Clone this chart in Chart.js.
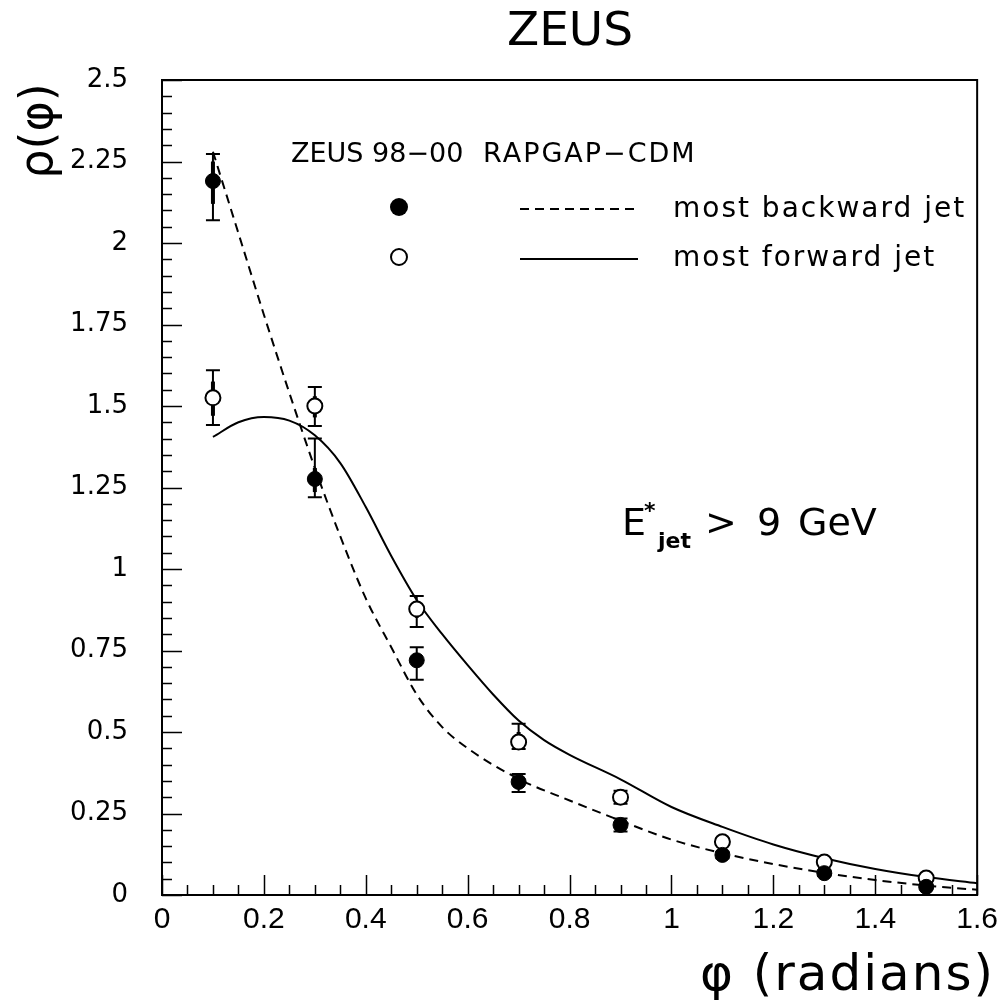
<!DOCTYPE html>
<html><head><meta charset="utf-8">
<script src="https://cdn.jsdelivr.net/npm/chart.js@4.4.1/dist/chart.umd.min.js"></script>
<style>html,body{margin:0;padding:0;background:#fff}#wrap{width:1005px;height:1001px;position:relative}</style>
</head><body><div id="wrap"><canvas id="c"></canvas></div>
<script>
// ---- data ----
const xPoints = [0.1, 0.3, 0.5, 0.7, 0.9, 1.1, 1.3, 1.5];
const backwardVals   = [2.19, 1.276, 0.72, 0.347, 0.215, 0.123, 0.067, 0.025];
const backwardTotHi  = [2.273, 1.40, 0.76, 0.371, 0.235, 0.133, 0.075, 0.030];
const backwardTotLo  = [2.07, 1.22, 0.66, 0.316, 0.195, 0.113, 0.059, 0.020];
const backwardStatHi = [2.25, 1.31, 0.74, 0.36, 0.225, 0.128, 0.071, 0.027];
const backwardStatLo = [2.12, 1.236, 0.70, 0.33, 0.205, 0.118, 0.063, 0.023];
const forwardVals    = [1.525, 1.50, 0.877, 0.469, 0.30, 0.163, 0.101, 0.052];
const forwardTotHi   = [1.61, 1.558, 0.917, 0.525, 0.32, 0.173, 0.109, 0.057];
const forwardTotLo   = [1.442, 1.439, 0.822, 0.448, 0.28, 0.153, 0.093, 0.047];
const forwardStatHi  = [1.575, 1.53, 0.90, 0.50, 0.31, 0.168, 0.105, 0.055];
const forwardStatLo  = [1.47, 1.465, 0.85, 0.455, 0.29, 0.158, 0.097, 0.049];

const curveXBack = [0.1,0.15,0.2,0.25,0.3,0.35,0.4,0.45,0.5,0.55,0.6,0.7,0.8,0.9,1.0,1.1,1.2,1.3,1.4,1.5,1.6];
const curveBack  = [2.28,2.03,1.78,1.54,1.31,1.10,0.91,0.76,0.615,0.515,0.45,0.356,0.29,0.228,0.17,0.128,0.095,0.068,0.046,0.029,0.016];
const curveXFwd  = [0.1,0.15,0.2,0.25,0.3,0.35,0.4,0.45,0.5,0.55,0.6,0.65,0.7,0.75,0.8,0.9,1.0,1.1,1.2,1.3,1.4,1.5,1.6];
const curveFwd   = [1.405,1.45,1.466,1.455,1.41,1.325,1.19,1.04,0.905,0.80,0.705,0.615,0.535,0.475,0.43,0.355,0.27,0.209,0.155,0.113,0.08,0.055,0.036];

const xTickLabels = ['0','0.2','0.4','0.6','0.8','1','1.2','1.4','1.6'];
const yTickLabels = ['0','0.25','0.5','0.75','1','1.25','1.5','1.75','2','2.25','2.5'];

const titleText = 'ZEUS';
const xTitle = 'φ (radians)';
const yTitle = 'ρ(φ)';
const legendHead = ['ZEUS 98−00', 'RAPGAP−CDM'];
const legendLabels = ['most backward jet', 'most forward jet'];

const pts = (xs, ys) => xs.map((x, i) => ({x, y: ys[i]}));
const findLabel = (arr, v) => { const l = arr.find(s => Math.abs(parseFloat(s) - v) < 1e-6); return l === undefined ? '' : l; };

const FONT = "'DejaVu Sans', sans-serif";

const decor = {
  id: 'decor',
  beforeDatasetsDraw(chart) {
    const {ctx, scales: {x, y}} = chart;
    ctx.save();
    ctx.strokeStyle = '#000';
    const drawErr = (hi, lo, shi, slo) => {
      xPoints.forEach((xv, i) => {
        const px = x.getPixelForValue(xv);
        const ph = y.getPixelForValue(hi[i]), pl = y.getPixelForValue(lo[i]);
        ctx.lineWidth = 2;
        ctx.beginPath();
        ctx.moveTo(px, ph); ctx.lineTo(px, pl);
        ctx.moveTo(px - 7, ph); ctx.lineTo(px + 7, ph);
        ctx.moveTo(px - 7, pl); ctx.lineTo(px + 7, pl);
        ctx.stroke();
        ctx.lineWidth = 4;
        ctx.beginPath();
        ctx.moveTo(px, y.getPixelForValue(shi[i])); ctx.lineTo(px, y.getPixelForValue(slo[i]));
        ctx.stroke();
      });
    };
    drawErr(forwardTotHi, forwardTotLo, forwardStatHi, forwardStatLo);
    drawErr(backwardTotHi, backwardTotLo, backwardStatHi, backwardStatLo);
    ctx.restore();
  },
  afterDraw(chart) {
    const {ctx, chartArea: a, scales: {x, y}} = chart;
    ctx.save();
    ctx.strokeStyle = '#000';
    ctx.fillStyle = '#000';
    // frame
    ctx.lineWidth = 2;
    ctx.strokeRect(a.left, a.top, a.right - a.left, a.bottom - a.top);
    // ticks (inside)
    ctx.lineWidth = 1.5;
    ctx.beginPath();
    for (let i = 0; i <= 50; i++) {
      const py = Math.round(y.getPixelForValue(i * 0.05)) + 0.5;
      const len = (i % 5 === 0) ? 20 : 10;
      ctx.moveTo(a.left, py); ctx.lineTo(a.left + len, py);
    }
    for (let i = 0; i <= 32; i++) {
      const px = Math.round(x.getPixelForValue(i * 0.05)) + 0.5;
      const len = (i % 4 === 0) ? 20 : 10;
      ctx.moveTo(px, a.bottom); ctx.lineTo(px, a.bottom - len);
    }
    ctx.stroke();

    // title
    ctx.textBaseline = 'alphabetic';
    ctx.textAlign = 'center';
    ctx.font = '47px ' + FONT;
    ctx.fillText(titleText, 570, 45);

    // x title
    ctx.textAlign = 'right';
    ctx.font = '50px ' + FONT;
    try { ctx.letterSpacing = '2px'; } catch (e) {}
    ctx.fillText(xTitle, 995, 990);
    try { ctx.letterSpacing = '0px'; } catch (e) {}

    // y title
    ctx.save();
    ctx.translate(52, 131);
    ctx.rotate(-Math.PI / 2);
    ctx.textAlign = 'center';
    ctx.font = '46px ' + FONT;
    ctx.fillText(yTitle, 0, 0);
    ctx.restore();

    // legend
    ctx.textAlign = 'left';
    ctx.font = '27px ' + FONT;
    ctx.fillText(legendHead[0], 291, 162);
    try { ctx.letterSpacing = '2px'; } catch (e) {}
    ctx.fillText(legendHead[1], 483, 162);
    try { ctx.letterSpacing = '0px'; } catch (e) {}
    // markers
    ctx.lineWidth = 2;
    ctx.beginPath(); ctx.arc(399, 207, 9, 0, Math.PI * 2); ctx.fill();
    ctx.beginPath(); ctx.arc(399, 257, 8, 0, Math.PI * 2); ctx.fillStyle = '#fff'; ctx.fill(); ctx.stroke();
    ctx.fillStyle = '#000';
    // lines
    ctx.setLineDash([9, 6]);
    ctx.beginPath(); ctx.moveTo(520, 209); ctx.lineTo(640, 209); ctx.stroke();
    ctx.setLineDash([]);
    ctx.beginPath(); ctx.moveTo(520, 259); ctx.lineTo(638, 259); ctx.stroke();
    ctx.font = '28px ' + FONT;
    try { ctx.letterSpacing = '2px'; } catch (e) {}
    ctx.fillText(legendLabels[0], 673, 217);
    ctx.fillText(legendLabels[1], 673, 266);
    try { ctx.letterSpacing = '0px'; } catch (e) {}

    // E*jet > 9 GeV
    ctx.font = '38px ' + FONT;
    ctx.fillText('E', 622, 535);
    ctx.font = 'bold 22px ' + FONT;
    ctx.fillText('*', 644, 518);
    ctx.fillText('jet', 658, 548);
    ctx.font = '38px ' + FONT;
    ctx.fillText('>', 705, 535);
    ctx.fillText('9', 757, 535);
    ctx.fillText('GeV', 798, 535);
    ctx.restore();
  }
};

new Chart(document.getElementById('c'), {
  type: 'scatter',
  data: {
    datasets: [
      { type: 'line', data: pts(curveXBack, curveBack), borderColor: '#000', borderWidth: 2, borderDash: [9, 6], pointRadius: 0, cubicInterpolationMode: 'monotone', fill: false, order: 3 },
      { type: 'line', data: pts(curveXFwd, curveFwd), borderColor: '#000', borderWidth: 2, pointRadius: 0, cubicInterpolationMode: 'monotone', fill: false, order: 3 },
      { data: pts(xPoints, forwardVals), pointStyle: 'circle', pointRadius: 7.5, backgroundColor: '#fff', borderColor: '#000', borderWidth: 2, order: 2 },
      { data: pts(xPoints, backwardVals), pointStyle: 'circle', pointRadius: 7.5, backgroundColor: '#000', borderColor: '#000', borderWidth: 1, order: 1 }
    ]
  },
  options: {
    responsive: true,
    maintainAspectRatio: false,
    animation: false,
    events: [],
    layout: { padding: { left: 0, top: 80, right: 27, bottom: 0 } },
    plugins: { legend: { display: false }, tooltip: { enabled: false }, title: { display: false } },
    scales: {
      x: {
        type: 'linear', min: 0, max: 1.6,
        grid: { display: false, drawTicks: false, tickLength: 0 },
        border: { display: false },
        afterFit(s) { s.height = 106; },
        ticks: {
          stepSize: 0.2, autoSkip: false, maxRotation: 0, padding: 7, color: '#000',
          font: { family: "'Liberation Sans Narrow', 'Liberation Sans', sans-serif", size: 30 },
          callback: (v) => findLabel(xTickLabels, v)
        }
      },
      y: {
        type: 'linear', min: 0, max: 2.5,
        grid: { display: false, drawTicks: false, tickLength: 0 },
        border: { display: false },
        afterFit(s) { s.width = 162; },
        ticks: {
          stepSize: 0.25, autoSkip: false, padding: 34, color: '#000',
          font: { family: FONT, size: 26 },
          callback: (v) => findLabel(yTickLabels, v)
        }
      }
    }
  },
  plugins: [decor]
});
</script>
</body></html>
